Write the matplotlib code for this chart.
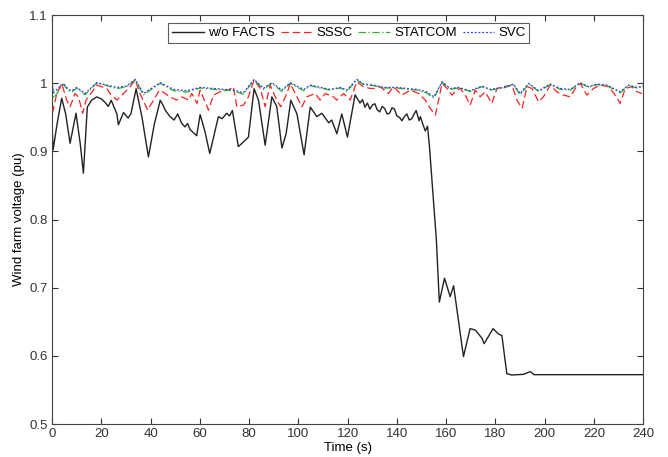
import matplotlib
matplotlib.use("Agg")
import matplotlib.pyplot as plt
from matplotlib.ticker import FuncFormatter

plt.rcParams["font.family"] = ["Liberation Sans", "DejaVu Sans"]

# w/o FACTS
t_base = [0, 0.4, 2, 3.9, 5.5, 7.3, 9.7, 11.4, 12.7, 14.3, 16, 18.1, 20, 21.5, 22.8, 24,
          26.3, 26.9, 29, 30.8, 32, 34.1, 36.5, 39.1, 41.5, 43.9, 45, 46, 47.9, 49.5, 51,
          52.5, 53.9, 55, 56, 57.5, 58.7, 60.1, 62, 64, 67.5, 69, 70.9, 72, 73.2, 75.6,
          78.3, 79.7, 82, 83.8, 86.5, 89.2, 91.2, 93.3, 95, 96.9, 99.4, 102.3, 104.8,
          107.5, 109.5, 112.3, 113.5, 115.6, 117.6, 119.9, 123, 125, 126, 127, 128, 129,
          130, 131, 132, 133, 134, 135, 136, 137, 138, 139, 140, 141, 142, 143, 144, 145,
          146, 147, 147.8, 149, 149.5, 150.5, 151.5, 152.4, 153.2, 156, 157.2, 159.3,
          161.6, 163, 167, 169.7, 171.8, 174.5, 175.4, 179, 181.3, 182.6, 184.6, 186.6,
          191.4, 194.1, 195.7, 240]
v_base = [0.939, 0.902, 0.94, 0.978, 0.955, 0.912, 0.956, 0.912, 0.868, 0.965, 0.975,
          0.980, 0.977, 0.972, 0.966, 0.975, 0.955, 0.939, 0.957, 0.949, 0.955, 0.992,
          0.95, 0.892, 0.94, 0.975, 0.968, 0.96, 0.951, 0.946, 0.955, 0.942, 0.936, 0.941,
          0.932, 0.927, 0.923, 0.954, 0.93, 0.897, 0.951, 0.948, 0.956, 0.952, 0.96, 0.907,
          0.916, 0.921, 0.992, 0.975, 0.909, 0.980, 0.966, 0.905, 0.926, 0.975, 0.955,
          0.895, 0.965, 0.951, 0.956, 0.942, 0.946, 0.926, 0.955, 0.921, 0.983, 0.971,
          0.976, 0.965, 0.971, 0.962, 0.968, 0.97, 0.961, 0.958, 0.966, 0.963, 0.955,
          0.956, 0.964, 0.962, 0.952, 0.95, 0.945, 0.951, 0.955, 0.946, 0.948, 0.955, 0.96,
          0.945, 0.951, 0.94, 0.93, 0.937, 0.907, 0.77, 0.679, 0.714, 0.687, 0.703, 0.599,
          0.640, 0.638, 0.626, 0.618, 0.640, 0.632, 0.63, 0.574, 0.572, 0.573, 0.577,
          0.5725, 0.5725]

# SSSC
t_sssc = [0.14, 1.9, 3.9, 5.9, 7.3, 9.3, 10.7, 12.4, 13.8, 16.8, 18.1, 22.2, 23.5, 26.3,
          29, 31.7, 33.7, 35.7, 38.8, 41.2, 43.6, 45.9, 47.9, 50.6, 52.7, 55.4, 56.7,
          58.8, 60.1, 63.5, 65.5, 68.2, 71.6, 73.6, 75, 77.7, 79.7, 82, 84.5, 86.5, 88.5,
          91.2, 92.8, 95.3, 96.7, 101.4, 103.4, 106.8, 108.8, 110.9, 114.2, 115.6, 118.3,
          121, 123.7, 126.4, 129.1, 131.1, 133.2, 136.5, 138.6, 142, 145.4, 148.8, 151.5,
          153.5, 155.6, 156.9, 158.3, 160.3, 162.3, 164.3, 165.7, 167.7, 169.7, 171.8,
          173.8, 175.8, 178.5, 180.6, 183.3, 186.7, 188.7, 190.8, 192.8, 194.8, 197.5,
          199.5, 202.2, 204.9, 207.6, 210.3, 212.4, 214.4, 217.1, 219.8, 222.5, 225.9,
          228.6, 230.6, 232.7, 235.4, 237.4, 239.5]
v_sssc = [0.956, 0.985, 0.9998, 0.9753, 0.9655, 0.985, 0.980, 0.956, 0.9753, 0.99, 0.9973,
          0.9924, 0.985, 0.9753, 0.985, 0.9949, 1.0047, 0.985, 0.9606, 0.9753, 0.99, 0.985,
          0.980, 0.9753, 0.980, 0.9753, 0.985, 0.9704, 0.99, 0.9606, 0.9826, 0.9875, 0.99,
          0.9949, 0.9655, 0.968, 0.9802, 1.0047, 0.9924, 0.9655, 0.9973, 0.9753, 0.9655,
          0.985, 0.9998, 0.9655, 0.9802, 0.985, 0.9753, 0.985, 0.9802, 0.9753, 0.985,
          0.9753, 1.0022, 0.9949, 0.9924, 0.9924, 0.9949, 0.985, 0.9949, 0.9826, 0.99,
          0.985, 0.9753, 0.9631, 0.9533, 0.9753, 0.9998, 0.9924, 0.9826, 0.99, 0.9924,
          0.9826, 0.968, 0.99, 0.9802, 0.9875, 0.9704, 0.9924, 0.9949, 0.9973, 0.9753,
          0.9631, 0.9949, 0.9924, 0.9728, 0.9802, 0.9973, 0.9875, 0.9826, 0.9802, 0.9924,
          0.9998, 0.9826, 0.9924, 0.9973, 0.9949, 0.9826, 0.9704, 0.9924, 0.9949, 0.9875,
          0.985]

# STATCOM / SVC share the same time samples
t_comp = [0.14, 0.54, 4.6, 6.6, 8.0, 10.0, 13.4, 18.1, 22.2, 26.3, 30.3, 33.7, 37.1, 43.9,
          49.3, 54.7, 60.1, 65.5, 73.6, 77.7, 82.0, 85.8, 89.2, 93.3, 96.7, 102.1, 104.8,
          108.8, 112.9, 117, 119.7, 123.7, 126.4, 130.5, 134.5, 140, 144, 148, 152, 155,
          158.3, 161.6, 165, 169.7, 174.5, 177.9, 183.3, 187.3, 190, 193.5, 197.5, 202.2,
          206.3, 210.3, 214.4, 217.8, 221.2, 225.2, 230.6, 234, 237.4, 239.9]
v_svc = [0.9973, 0.986, 0.9998, 0.991, 0.989, 0.9939, 0.985, 1.0008, 0.9973, 0.9939,
         0.9958, 1.0057, 0.985, 1.0008, 0.991, 0.989, 0.9939, 0.9924, 0.99, 0.986, 1.0057,
         0.9924, 1.0008, 0.99, 1.0008, 0.991, 0.9973, 0.9939, 0.991, 0.9939, 0.99, 1.0057,
         0.9988, 0.9973, 0.9939, 0.9939, 0.9924, 0.991, 0.9875, 0.980, 1.0022, 0.9924,
         0.9939, 0.989, 0.9958, 0.991, 0.9939, 0.9988, 0.985, 0.9998, 0.989, 0.9988,
         0.9924, 0.991, 1.0008, 0.9949, 0.9988, 0.9973, 0.9875, 0.9973, 0.9939, 0.9958]
v_statcom = [0.9955, 0.978, 0.9985, 0.989, 0.987, 0.993, 0.983, 1.0005, 0.9965, 0.992,
             0.995, 1.005, 0.983, 1.0, 0.989, 0.987, 0.993, 0.991, 0.989, 0.984, 1.005,
             0.991, 1.0, 0.988, 1.0, 0.989, 0.9965, 0.993, 0.99, 0.993, 0.988, 1.005,
             0.998, 0.9965, 0.993, 0.993, 0.991, 0.99, 0.986, 0.978, 1.0015, 0.991, 0.993,
             0.988, 0.995, 0.99, 0.993, 0.998, 0.983, 0.999, 0.988, 0.998, 0.991, 0.99,
             1.0, 0.994, 0.998, 0.9965, 0.986, 0.9965, 0.993, 0.995]

fig = plt.figure(figsize=(6.68, 4.57), dpi=100)
ax = fig.add_axes([0.078, 0.072, 0.885, 0.895])

ax.plot(t_base, v_base, color="#222222", lw=1.0, label="w/o FACTS")
ax.plot(t_sssc, v_sssc, color="#ff2020", lw=0.9, ls=(0, (6, 3)), label="SSSC")
ax.plot(t_comp, v_statcom, color="#22bb22", lw=0.9, ls=(0, (6, 2, 1, 2)), label="STATCOM")
ax.plot(t_comp, v_svc, color="#3333ff", lw=0.9, ls=(0, (1.5, 1.5)), label="SVC")

ax.set_xlim(0, 240)
ax.set_ylim(0.5, 1.1)
ax.set_xticks(range(0, 241, 20))
ax.set_yticks([0.5, 0.6, 0.7, 0.8, 0.9, 1.0, 1.1])
ax.yaxis.set_major_formatter(FuncFormatter(lambda v, p: "%g" % round(v, 2)))
ax.tick_params(direction="in", top=True, right=True, labelsize=9.5, length=4,
               colors="#333333", pad=3)
for s in ax.spines.values():
    s.set_color("#444444")

ax.set_xlabel("Time (s)", fontsize=9.5, labelpad=1)
ax.set_ylabel("Wind farm voltage (pu)", fontsize=9.5, labelpad=3)

leg = ax.legend(loc="upper center", ncol=4, fontsize=9.5, frameon=True, fancybox=False,
                bbox_to_anchor=(0.502, 0.99), handlelength=2.4, columnspacing=0.45,
                handletextpad=0.3, borderpad=0.3, borderaxespad=0.3)
leg.get_frame().set_edgecolor("#333333")
leg.get_frame().set_linewidth(0.8)

fig.savefig("out.png", dpi=100)
